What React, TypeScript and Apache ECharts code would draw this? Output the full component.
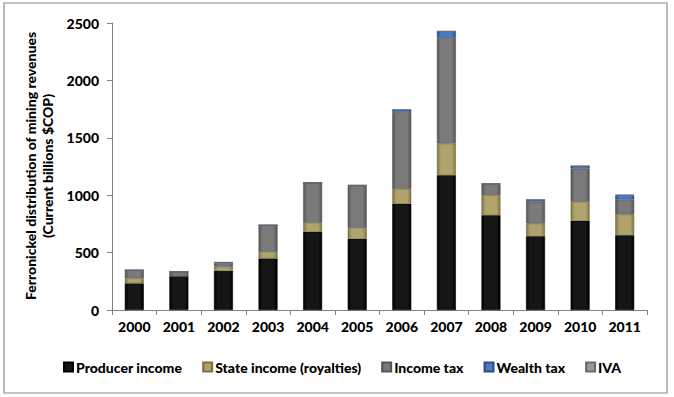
import React, { useEffect, useRef } from "react";
import * as echarts from "echarts";

const years = ["2000", "2001", "2002", "2003", "2004", "2005", "2006", "2007", "2008", "2009", "2010", "2011"];
const producerIncome = [232, 296, 342, 449, 681, 620, 925, 1174, 826, 643, 777, 652];
const stateIncome = [43, 0, 35, 58, 78, 96, 128, 275, 174, 110, 165, 180];
const incomeTax = [72, 38, 29, 232, 351, 366, 672, 921, 96, 191, 290, 130];
const wealthTax = [0, 0, 9, 0, 0, 5, 20, 58, 5, 17, 23, 38];
const iva = [0, 0, 0, 0, 0, 0, 0, 0, 0, 0, 0, 5];

const FONT = "Lato";
const FW = 900;

function grad(edge: string, mid: string) {
  return new echarts.graphic.LinearGradient(0, 0, 1, 0, [
    { offset: 0, color: edge },
    { offset: 0.2, color: mid },
    { offset: 0.8, color: mid },
    { offset: 1, color: edge },
  ]);
}

export default function App() {
  const ref = useRef<HTMLDivElement>(null);
  useEffect(() => {
    if (!ref.current) return;
    const chart = echarts.init(ref.current, undefined, { renderer: "svg" });
    const mk = (name: string, data: number[], edge: string, mid: string, legendColor: string) => ({
      name,
      type: "bar",
      stack: "total",
      data,
      barWidth: 19,
      color: legendColor,
      itemStyle: { color: grad(edge, mid), borderColor: edge, borderWidth: 0.6 },
    });
    const titleStyle = (text: string) => ({
      text,
      fontFamily: FONT,
      fontWeight: FW,
      fontSize: 14,
      fill: "#000",
      align: "center",
      verticalAlign: "middle",
    });
    chart.setOption({
      animation: false,
      textStyle: { fontFamily: FONT },
      graphic: [
        {
          type: "rect",
          shape: { x: 4, y: 3, width: 663, height: 390 },
          style: { fill: "none", stroke: "#8c8c8c", lineWidth: 1.2 },
          silent: true,
        },
        { type: "text", x: 30, y: 166, rotation: Math.PI / 2, style: titleStyle("Ferronickel distribution of mining revenues") },
        { type: "text", x: 47, y: 166, rotation: Math.PI / 2, style: titleStyle("(Current billions $COP)") },
      ],
      legend: {
        left: 58,
        top: 355,
        itemWidth: 9,
        itemHeight: 9,
        itemGap: 20,
        icon: "rect",
        textStyle: { fontFamily: FONT, fontWeight: FW, fontSize: 14, color: "#000", padding: [0, 0, 0, -2] },
        data: ["Producer income", "State income (royalties)", "Income tax", "Wealth tax", "IVA"],
      },
      grid: { left: 112, right: 27, top: 23, bottom: 87, containLabel: false },
      xAxis: {
        type: "category",
        data: years,
        axisLine: { lineStyle: { color: "#808080", width: 1 } },
        axisTick: { show: true, length: 5, lineStyle: { color: "#808080" } },
        axisLabel: { fontFamily: FONT, fontWeight: FW, fontSize: 14, color: "#000", margin: 9 },
      },
      yAxis: {
        type: "value",
        min: 0,
        max: 2500,
        interval: 500,
        axisLine: { show: true, lineStyle: { color: "#808080", width: 1 } },
        axisTick: { show: true, length: 5, lineStyle: { color: "#808080" } },
        splitLine: { show: false },
        axisLabel: { fontFamily: FONT, fontWeight: FW, fontSize: 14, color: "#000", margin: 13, formatter: (v: number) => String(v) },
      },
      series: [
        mk("Producer income", producerIncome, "#000000", "#161616", "#1a1a1a"),
        mk("State income (royalties)", stateIncome, "#7d7245", "#b0a46c", "#a89c64"),
        mk("Income tax", incomeTax, "#555555", "#7a7a7a", "#777777"),
        mk("Wealth tax", wealthTax, "#2a4f86", "#4a7cc0", "#4472b4"),
        mk("IVA", iva, "#6a6a6a", "#9a9a9a", "#8e8e8e"),
      ],
    });
    return () => chart.dispose();
  }, []);
  return <div ref={ref} style={{ width: 674, height: 397, position: "absolute", left: 0, top: 0, background: "#fff" }} />;
}
